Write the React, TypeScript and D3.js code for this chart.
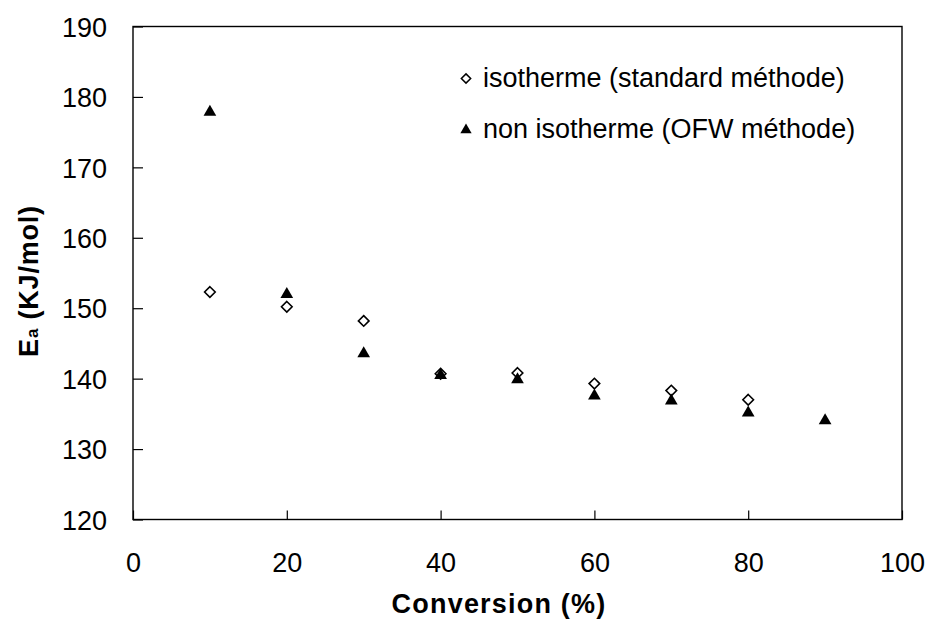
import * as d3 from 'd3';
import { useEffect, useRef } from 'react';

// conversion (%) and activation energy (kJ/mol)
const conversion = [10, 20, 30, 40, 50, 60, 70, 80, 90];
const isothermValues = [152.3, 150.2, 148.2, 140.7, 140.8, 139.3, 138.3, 137.0];
const nonIsothermValues = [178.0, 152.1, 143.7, 140.6, 140.0, 137.7, 137.0, 135.3, 134.2];
const xTicks = [0, 20, 40, 60, 80, 100];
const yTicks = [120, 130, 140, 150, 160, 170, 180, 190];
const legendLabels = ['isotherme (standard méthode)', 'non isotherme (OFW méthode)'];

const W = 929;
const H = 621;

export default function App() {
	const ref = useRef<SVGSVGElement>(null);

	useEffect(() => {
		const svg = d3.select(ref.current);
		svg.selectAll('*').remove();

		const margin = { top: 26.5, right: 27, bottom: 101.5, left: 133 };
		const x = d3.scaleLinear().domain([0, 100]).range([margin.left, W - margin.right]);
		const y = d3.scaleLinear().domain([120, 190]).range([H - margin.bottom, margin.top]);
		const font = "'Liberation Sans', Arial, sans-serif";

		// cadre
		svg
			.append('rect')
			.attr('x', x(0))
			.attr('y', y(190))
			.attr('width', x(100) - x(0))
			.attr('height', y(120) - y(190))
			.attr('fill', 'none')
			.attr('stroke', '#000')
			.attr('stroke-width', 1.4);

		// graduations
		const xAxis = d3.axisBottom(x).tickValues(xTicks).tickSize(-9);
		const gx = svg.append('g').attr('transform', `translate(0,${y(120)})`).call(xAxis);
		const yAxis = d3.axisLeft(y).tickValues(yTicks).tickSize(-10);
		const gy = svg.append('g').attr('transform', `translate(${x(0)},0)`).call(yAxis);
		[gx, gy].forEach((g) => {
			g.select('.domain').remove();
			g.selectAll('line').attr('stroke', '#000').attr('stroke-width', 1.2);
			g.selectAll('text')
				.attr('font-family', font)
				.attr('font-size', 27)
				.attr('fill', '#000');
		});
		gx.selectAll('text').attr('y', 52).attr('dy', 0);
		gy.selectAll('text').attr('x', -26).attr('dy', '0.36em');

		// titres des axes
		svg
			.append('text')
			.attr('x', 499)
			.attr('y', 613)
			.attr('text-anchor', 'middle')
			.attr('font-family', font)
			.attr('font-size', 27)
			.attr('font-weight', 'bold')
			.attr('letter-spacing', 1.2)
			.text('Conversion (%)');

		const yt = svg
			.append('text')
			.attr('transform', `translate(38,281) rotate(-90)`)
			.attr('text-anchor', 'middle')
			.attr('font-family', font)
			.attr('font-size', 27)
			.attr('font-weight', 'bold')
			.attr('letter-spacing', 0.8);
		yt.append('tspan').text('E');
		yt.append('tspan').attr('font-size', 17).text('a');
		yt.append('tspan').text(' (KJ/mol)');

		const diamond = d3.symbol().type(d3.symbolDiamond2).size(72);
		const triangle = d3.symbol().type(d3.symbolTriangle).size(70);

		// séries
		svg
			.append('g')
			.selectAll('path')
			.data(isothermValues)
			.enter()
			.append('path')
			.attr('d', diamond)
			.attr('transform', (d, i) => `translate(${x(conversion[i])},${y(d)})`)
			.attr('fill', '#fff')
			.attr('stroke', '#000')
			.attr('stroke-width', 1.6);

		svg
			.append('g')
			.selectAll('path')
			.data(nonIsothermValues)
			.enter()
			.append('path')
			.attr('d', triangle)
			.attr('transform', (d, i) => `translate(${x(conversion[i])},${y(d) + 1})`)
			.attr('fill', '#000');

		// légende
		const leg = svg.append('g').attr('transform', 'translate(466,78.5)');
		leg
			.append('path')
			.attr('d', d3.symbol().type(d3.symbolDiamond2).size(55))
			.attr('fill', '#fff')
			.attr('stroke', '#000')
			.attr('stroke-width', 1.5);
		leg
			.append('path')
			.attr('d', d3.symbol().type(d3.symbolTriangle).size(55))
			.attr('transform', 'translate(0,51.5)')
			.attr('fill', '#000');
		leg
			.selectAll('text')
			.data(legendLabels)
			.enter()
			.append('text')
			.attr('x', 17)
			.attr('y', (d, i) => 8 + i * 51.5)
			.attr('font-family', font)
			.attr('font-size', 27)
			.text((d) => d);
	}, []);

	return (
		<svg
			ref={ref}
			width={W}
			height={H}
			style={{ position: 'absolute', left: 0, top: 0, background: '#fff' }}
		></svg>
	);
}
